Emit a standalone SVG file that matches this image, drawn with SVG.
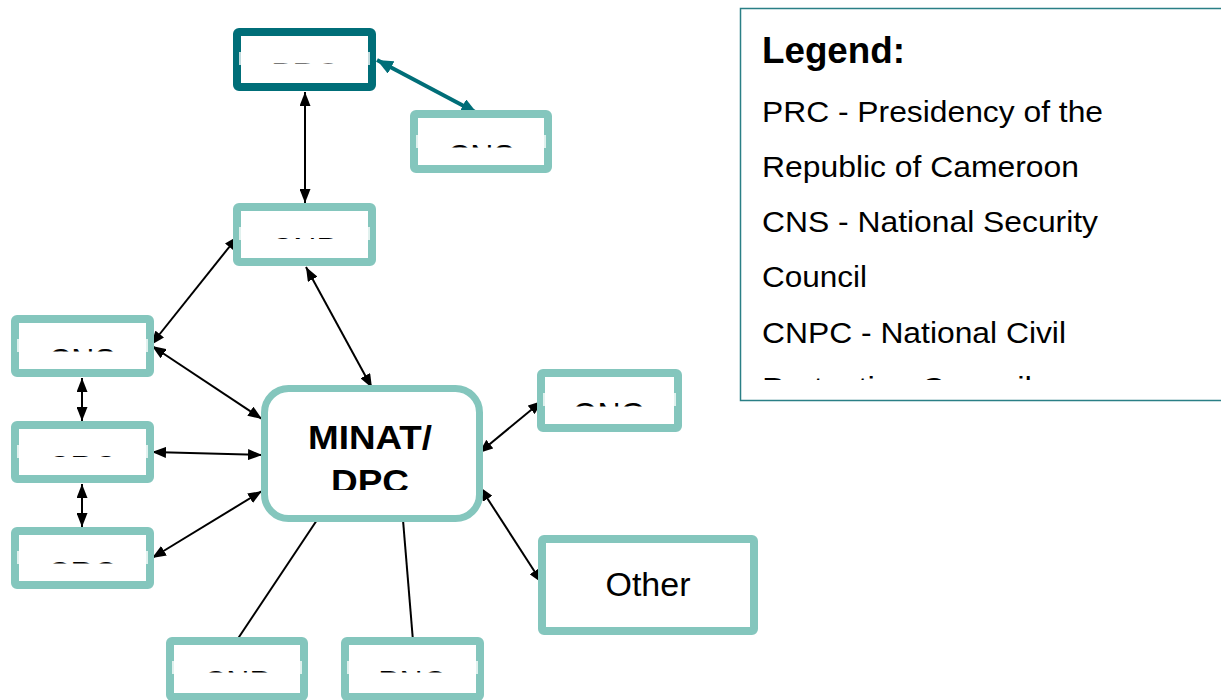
<svg xmlns="http://www.w3.org/2000/svg" width="1221" height="700" viewBox="0 0 1221 700">
<style>
.box{fill:#fff;stroke:#84c6bd;stroke-width:8}
.dark{fill:#fff;stroke:#006e78;stroke-width:8}
.lbl{font-family:"Liberation Sans",Arial,sans-serif;font-size:32px;fill:#000;text-anchor:middle}
.patch{fill:#fff;opacity:0.75}
.con{stroke:#000;stroke-width:2;fill:none}
.leg{font-family:"Liberation Sans",Arial,sans-serif;font-size:30px;fill:#000}
</style>
<defs>
<marker id="ah" viewBox="0 0 14 11" refX="14" refY="5.5" markerWidth="14" markerHeight="11" orient="auto-start-reverse" markerUnits="userSpaceOnUse"><path d="M0,0 L14,5.5 L0,11 z" fill="#000"/></marker>
<marker id="ahT" viewBox="0 0 16 14" refX="16" refY="7" markerWidth="16" markerHeight="14" orient="auto-start-reverse" markerUnits="userSpaceOnUse"><path d="M0,0 L16,7 L0,14 z" fill="#006e78"/></marker>
<clipPath id="cPRC"><rect x="240" y="36" width="130" height="27.5"/></clipPath>
<clipPath id="cCNS"><rect x="416" y="118" width="130" height="29.5"/></clipPath>
<clipPath id="cCNP"><rect x="240" y="210" width="130" height="29"/></clipPath>
<clipPath id="cL1"><rect x="18" y="322" width="130" height="29.5"/></clipPath>
<clipPath id="cL2"><rect x="18" y="428" width="130" height="29"/></clipPath>
<clipPath id="cL3"><rect x="18" y="534" width="130" height="29.5"/></clipPath>
<clipPath id="cB1"><rect x="173" y="644" width="130" height="28.5"/></clipPath>
<clipPath id="cB2"><rect x="348" y="644" width="130" height="28.5"/></clipPath>
<clipPath id="cONG"><rect x="544" y="376" width="130" height="30.5"/></clipPath>
<clipPath id="cMIN"><rect x="265" y="390" width="214" height="100"/></clipPath>
<clipPath id="cLeg"><rect x="741" y="9" width="480" height="371"/></clipPath>
</defs>

<g id="connectors">
<line class="con" x1="305" y1="92" x2="305" y2="203" marker-start="url(#ah)" marker-end="url(#ah)"/>
<line x1="377" y1="60" x2="477" y2="113" stroke="#006e78" stroke-width="4" marker-start="url(#ahT)" marker-end="url(#ahT)"/>
<line class="con" x1="238" y1="236" x2="151" y2="345" marker-start="url(#ah)" marker-end="url(#ah)"/>
<line class="con" x1="306" y1="267" x2="372" y2="388" marker-start="url(#ah)" marker-end="url(#ah)"/>
<line class="con" x1="152" y1="346" x2="262" y2="419" marker-start="url(#ah)" marker-end="url(#ah)"/>
<line class="con" x1="82" y1="378" x2="82" y2="421" marker-start="url(#ah)" marker-end="url(#ah)"/>
<line class="con" x1="152" y1="452" x2="262" y2="455" marker-start="url(#ah)" marker-end="url(#ah)"/>
<line class="con" x1="82" y1="484" x2="82" y2="527" marker-start="url(#ah)" marker-end="url(#ah)"/>
<line class="con" x1="152" y1="558" x2="262" y2="491" marker-start="url(#ah)" marker-end="url(#ah)"/>
<line class="con" x1="542" y1="401" x2="479" y2="453" marker-start="url(#ah)" marker-end="url(#ah)"/>
<line class="con" x1="480" y1="487" x2="542" y2="583" marker-start="url(#ah)" marker-end="url(#ah)"/>
<line class="con" x1="317" y1="520" x2="237" y2="640"/>
<line class="con" x1="403" y1="520" x2="413" y2="641"/>
</g>

<g id="node-prc">
<rect class="dark" x="237" y="32" width="135" height="55" rx="2"/>
<rect class="patch" x="239" y="52" width="131" height="13"/>
<text class="lbl" x="305" y="84.5" clip-path="url(#cPRC)">PRC</text>
</g>
<g id="node-cns">
<rect class="box" x="414" y="114" width="134" height="55" rx="2"/>
<rect class="patch" x="416" y="135" width="130" height="13"/>
<text class="lbl" x="481" y="167" clip-path="url(#cCNS)">CNS</text>
</g>
<g id="node-cnp">
<rect class="box" x="237" y="207" width="135" height="55" rx="2"/>
<rect class="patch" x="239" y="227" width="131" height="13"/>
<text class="lbl" x="304" y="259.5" clip-path="url(#cCNP)">CNP</text>
</g>
<g id="node-left1">
<rect class="box" x="15" y="319" width="135" height="54" rx="2"/>
<rect class="patch" x="17" y="339" width="131" height="13"/>
<text class="lbl" x="82" y="370.5" clip-path="url(#cL1)">CNS</text>
</g>
<g id="node-left2">
<rect class="box" x="15" y="425" width="135" height="54" rx="2"/>
<rect class="patch" x="17" y="445" width="131" height="13"/>
<text class="lbl" x="82" y="477.5" clip-path="url(#cL2)">CRC</text>
</g>
<g id="node-left3">
<rect class="box" x="15" y="531" width="135" height="54" rx="2"/>
<rect class="patch" x="17" y="551" width="131" height="13"/>
<text class="lbl" x="82" y="584" clip-path="url(#cL3)">CRC</text>
</g>
<g id="node-bottom1">
<rect class="box" x="170" y="641" width="134" height="56" rx="2"/>
<rect class="patch" x="172" y="661" width="130" height="13"/>
<text class="lbl" x="237" y="693" clip-path="url(#cB1)">CNP</text>
</g>
<g id="node-bottom2">
<rect class="box" x="345" y="641" width="135" height="56" rx="2"/>
<rect class="patch" x="347" y="661" width="131" height="13"/>
<text class="lbl" x="412" y="693" clip-path="url(#cB2)">PNC</text>
</g>
<g id="node-ong">
<rect class="box" x="541" y="373" width="137" height="55" rx="2"/>
<rect class="patch" x="543" y="393" width="133" height="13"/>
<text class="lbl" x="609" y="425" clip-path="url(#cONG)">ONG</text>
</g>
<g id="node-minat">
<rect x="264.5" y="388.5" width="215" height="130" rx="24" fill="#fff" stroke="#84c6bd" stroke-width="7"/>
<g clip-path="url(#cMIN)" font-family="'Liberation Sans',Arial,sans-serif" font-size="33" font-weight="bold" text-anchor="middle">
<text x="370" y="449" textLength="124" lengthAdjust="spacingAndGlyphs">MINAT/</text>
<text x="370" y="493" textLength="78" lengthAdjust="spacingAndGlyphs">DPC</text>
</g>
</g>
<g id="node-other">
<rect class="box" x="542" y="539" width="212" height="92" rx="2"/>
<text x="648" y="596" font-family="'Liberation Sans',Arial,sans-serif" font-size="34" text-anchor="middle">Other</text>
</g>

<g id="legend">
<rect x="740.5" y="8.5" width="490" height="392" fill="#fff" stroke="#2a7f86" stroke-width="1.5"/>
<g clip-path="url(#cLeg)">
<text x="762" y="63" font-family="'Liberation Sans',Arial,sans-serif" font-size="36" font-weight="bold" textLength="143" lengthAdjust="spacingAndGlyphs">Legend:</text>
<text class="leg" x="762" y="122" textLength="341" lengthAdjust="spacingAndGlyphs">PRC - Presidency of the</text>
<text class="leg" x="762" y="177" textLength="317" lengthAdjust="spacingAndGlyphs">Republic of Cameroon</text>
<text class="leg" x="762" y="232" textLength="336" lengthAdjust="spacingAndGlyphs">CNS - National Security</text>
<text class="leg" x="762" y="287" textLength="105" lengthAdjust="spacingAndGlyphs">Council</text>
<text class="leg" x="762" y="343" textLength="304" lengthAdjust="spacingAndGlyphs">CNPC - National Civil</text>
<text class="leg" x="762" y="398" textLength="270" lengthAdjust="spacingAndGlyphs">Protection Council</text>
</g>
</g>
</svg>
